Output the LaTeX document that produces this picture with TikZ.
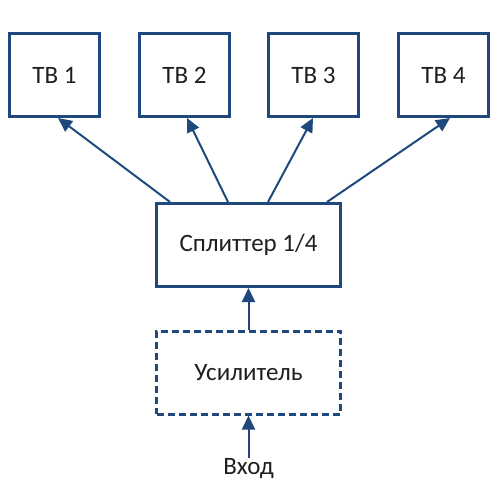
\documentclass[tikz,border=0pt]{standalone}
\usepackage{fontspec}
\setmainfont{Carlito}
\usetikzlibrary{arrows.meta,calc}
\definecolor{dblue}{RGB}{31,73,125}
\tikzset{
  lbl/.style={font=\fontsize{25}{29}\selectfont,text=black!88},
  box/.style={lbl,draw=dblue,line width=3pt,minimum width=90pt,minimum height=83pt,inner sep=0pt,fill=white},
  widebox/.style={box,minimum width=184pt},
  dashbox/.style={widebox,dash pattern=on 7pt off 4pt},
  arr/.style={draw=dblue,line width=2pt,-{Triangle[length=14pt,width=13pt]}}
}
\begin{document}
\begin{tikzpicture}[x=1pt,y=-1pt]
\useasboundingbox (0,0) rectangle (500,502);
\node[box] (tb1) at (54.5,75) {ТВ 1};
\node[box] (tb2) at (184.5,75) {ТВ 2};
\node[box] (tb3) at (313.5,75) {ТВ 3};
\node[box] (tb4) at (443.5,75) {ТВ 4};
\node[widebox] (spl) at (248.5,245) {Сплиттер 1/4};
\node[dashbox] (amp) at (248.5,372.5) {Усилитель};
\node[lbl,inner sep=1pt] (in) at (248.5,469) {Вход};
\draw[arr] ([xshift=-78.5pt]spl.north) -- ([xshift=3.5pt]tb1.south);
\draw[arr] ([xshift=-20.5pt]spl.north) -- ([xshift=2.5pt]tb2.south);
\draw[arr] ([xshift=19.5pt]spl.north) -- ([xshift=-0.5pt]tb3.south);
\draw[arr] ([xshift=78.5pt]spl.north) -- ([xshift=6.5pt]tb4.south);
\draw[arr] (amp.north) -- (spl.south);
\draw[arr] (in.north) -- (amp.south);
\end{tikzpicture}
\end{document}
